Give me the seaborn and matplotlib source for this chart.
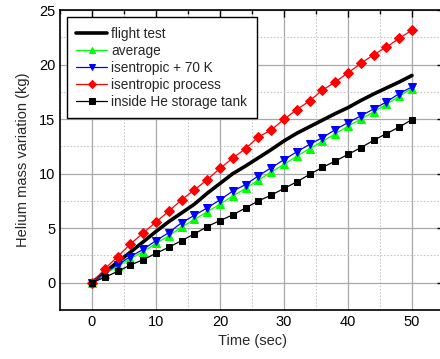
import matplotlib
matplotlib.use("Agg")
import matplotlib.pyplot as plt
import seaborn as sns
import pandas as pd
from matplotlib.ticker import MultipleLocator

sns.set_theme(style="white")
plt.rcParams['font.family'] = ['Liberation Sans', 'DejaVu Sans']

time = list(range(0, 51, 2))
flight_test = [0, 0.95, 1.9, 2.8, 3.75, 4.7, 5.6, 6.4, 7.2, 8.2, 9.1, 10.0, 10.7,
               11.45, 12.2, 13.0, 13.7, 14.3, 14.9, 15.5, 16.05, 16.7, 17.3, 17.85, 18.4, 19.0]
average = [0, 0.8, 1.5, 2.2, 2.85, 3.6, 4.3, 5.1, 5.8, 6.5, 7.2, 7.95, 8.65, 9.4,
           10.15, 10.85, 11.6, 12.3, 12.95, 13.65, 14.35, 15.0, 15.65, 16.35, 17.1, 17.8]
isentropic_70k = [0, 0.9, 1.65, 2.39, 3.06, 3.86, 4.6, 5.5, 6.18, 6.86, 7.6, 8.4, 9.0,
                  9.8, 10.54, 11.28, 12.0, 12.68, 13.3, 14.03, 14.68, 15.29, 15.93, 16.57, 17.34, 17.95]
isentropic = [0, 1.26, 2.39, 3.55, 4.56, 5.57, 6.56, 7.6, 8.52, 9.44, 10.48, 11.43, 12.3,
              13.36, 14.0, 14.98, 15.87, 16.67, 17.65, 18.4, 19.24, 20.1, 20.9, 21.6, 22.4, 23.16]
tank = [0, 0.5, 1.04, 1.62, 2.11, 2.7, 3.25, 3.86, 4.47, 5.15, 5.7, 6.22, 6.86, 7.5,
        8.03, 8.64, 9.25, 9.93, 10.57, 11.15, 11.76, 12.38, 13.05, 13.67, 14.27, 14.95]

labels = ["flight test", "average", "isentropic + 70 K", "isentropic process", "inside He storage tank"]
series = [flight_test, average, isentropic_70k, isentropic, tank]
colors = ["black", "#00ff00", "#0000ff", "#ff0000", "black"]
markers = [None, "^", "v", "D", "s"]
msizes = [0, 6, 6, 5.5, 5]
lws = [2.6, 0.9, 0.9, 0.9, 0.9]

fig = plt.figure(figsize=(4.4, 3.59), dpi=100)
ax = fig.add_axes([60/440, 49/359, 384/440, 300/359])

for lab, vals, c, m, ms, lw in zip(labels, series, colors, markers, msizes, lws):
    df = pd.DataFrame({"t": time, "v": vals})
    kw = dict(data=df, x="t", y="v", ax=ax, color=c, linewidth=lw, label=lab)
    if m is not None:
        kw.update(marker=m, markersize=ms, markeredgecolor=c, markerfacecolor=c)
    sns.lineplot(**kw)

ax.set_xlim(-5, 55)
ax.set_ylim(-2.5, 25)
ax.xaxis.set_major_locator(MultipleLocator(10))
ax.xaxis.set_minor_locator(MultipleLocator(5))
ax.yaxis.set_major_locator(MultipleLocator(5))
ax.yaxis.set_minor_locator(MultipleLocator(2.5))
ax.grid(which="major", color="#a8a8a8", linewidth=0.9, linestyle="-")
ax.grid(which="minor", color="#c8c8c8", linewidth=0.8, linestyle=(0, (1.5, 1.5)))
ax.set_axisbelow(True)
ax.tick_params(which="both", direction="in", top=True, right=True, labelsize=10.5,
               colors="black", width=1)
ax.tick_params(which="major", length=5)
ax.tick_params(which="minor", length=3)
for s in ax.spines.values():
    s.set_color("black")
    s.set_linewidth(1.2)
ax.set_xlabel("Time (sec)", fontsize=10.5, labelpad=4)
ax.set_ylabel("Helium mass variation (kg)", fontsize=10.5, labelpad=6)

leg = ax.legend(loc="upper left", bbox_to_anchor=(0.017, 0.976), fontsize=9.8,
                frameon=True, fancybox=False, edgecolor="black", framealpha=1,
                handlelength=2.3, handletextpad=0.3, borderpad=0.7, labelspacing=0.22,
                borderaxespad=0, markerscale=0.8)
leg.get_frame().set_linewidth(1.0)

fig.savefig("out.png", dpi=100)
